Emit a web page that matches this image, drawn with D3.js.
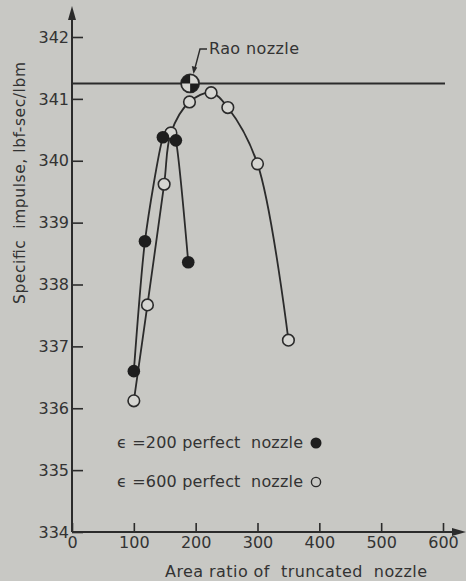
<!DOCTYPE html>
<html>
<head>
<meta charset="utf-8">
<script src="https://cdn.jsdelivr.net/npm/d3@7"></script>
<style>
  html, body { margin: 0; padding: 0; background: #c8c8c4; }
  svg { display: block; }
  text { font-family: "DejaVu Sans", sans-serif; fill: #333; white-space: pre; }
</style>
</head>
<body>
<script>
// eps = 200 perfect nozzle (filled dots)
const ratio200 = [100, 118, 147, 168, 188];
const isp200 = [336.6, 338.7, 340.38, 340.33, 338.36];

// eps = 600 perfect nozzle (open dots)
const ratio600 = [100, 122, 149, 160, 190, 225, 252, 300, 350];
const isp600 = [336.12, 337.67, 339.62, 340.45, 340.95, 341.1, 340.86, 339.95, 337.1];

// Rao nozzle
const raoRatio = 191;
const raoIsp = 341.25;

const xTicks = [0, 100, 200, 300, 400, 500, 600];
const yTicks = [334, 335, 336, 337, 338, 339, 340, 341, 342];

const width = 466, height = 581;
const ink = "#2b2b2b";

const svg = d3.select("body").append("svg")
  .attr("width", width)
  .attr("height", height);

svg.append("rect")
  .attr("width", width)
  .attr("height", height)
  .attr("fill", "#c8c8c4");

const x = d3.scaleLinear().domain([0, 600]).range([72, 443]);
const y = d3.scaleLinear().domain([334, 342]).range([532, 37]);

// axes
const xAxis = d3.axisBottom(x).tickValues(xTicks).tickSize(-9).tickPadding(5);
const yAxis = d3.axisLeft(y).tickValues(yTicks).tickSize(-11).tickPadding(3);

const gx = svg.append("g")
  .attr("transform", `translate(0,${y(334)})`)
  .call(xAxis);
const gy = svg.append("g")
  .attr("transform", `translate(${x(0)},0)`)
  .call(yAxis);

[gx, gy].forEach(g => {
  g.select(".domain").remove();
  g.selectAll(".tick line").attr("stroke", ink).attr("stroke-width", 1.6);
  g.selectAll(".tick text")
    .attr("fill", "#303030")
    .style("font-size", "16px")
    .style("font-family", "'DejaVu Sans', sans-serif");
});

// axis lines with arrows
svg.append("line")
  .attr("x1", x(0)).attr("y1", y(334))
  .attr("x2", x(0)).attr("y2", 16)
  .attr("stroke", ink).attr("stroke-width", 2);
svg.append("path")
  .attr("d", `M${x(0)},6 L${x(0) - 4},20 L${x(0) + 4},20 Z`)
  .attr("fill", ink);

svg.append("line")
  .attr("x1", x(0)).attr("y1", y(334))
  .attr("x2", 456).attr("y2", y(334))
  .attr("stroke", ink).attr("stroke-width", 2);
svg.append("path")
  .attr("d", `M466,${y(334)} L452,${y(334) - 4} L452,${y(334) + 4} Z`)
  .attr("fill", ink);

// axis titles
svg.append("text")
  .attr("x", 165)
  .attr("y", 577)
  .attr("textLength", 262)
  .attr("lengthAdjust", "spacing")
  .style("font-size", "16px")
  .text("Area ratio of  truncated  nozzle");

svg.append("text")
  .attr("transform", "translate(25,304) rotate(-90)")
  .attr("textLength", 242)
  .attr("lengthAdjust", "spacing")
  .style("font-size", "15.5px")
  .text("Specific  impulse, lbf-sec/lbm");

// Rao reference line
svg.append("line")
  .attr("x1", x(0)).attr("x2", 445)
  .attr("y1", y(raoIsp)).attr("y2", y(raoIsp))
  .attr("stroke", ink).attr("stroke-width", 2);

// curves
const line600 = d3.line()
  .x(d => x(d[0]))
  .y(d => y(d[1]))
  .curve(d3.curveCatmullRom.alpha(0.5));

const line200 = d3.line()
  .x(d => x(d[0]))
  .y(d => y(d[1]))
  .curve(d3.curveCardinal.tension(0.25));

const pts600 = ratio600.map((r, i) => [r, isp600[i]]);
const pts200 = ratio200.map((r, i) => [r, isp200[i]]);

svg.append("path")
  .attr("d", line600(pts600))
  .attr("fill", "none")
  .attr("stroke", ink)
  .attr("stroke-width", 1.8);

svg.append("path")
  .attr("d", line200(pts200))
  .attr("fill", "none")
  .attr("stroke", ink)
  .attr("stroke-width", 1.8);

// points
svg.append("g").selectAll("circle")
  .data(pts600)
  .join("circle")
  .attr("cx", d => x(d[0]))
  .attr("cy", d => y(d[1]))
  .attr("r", 5.8)
  .attr("fill", "#d6d6d2")
  .attr("stroke", ink)
  .attr("stroke-width", 1.6);

svg.append("g").selectAll("circle")
  .data(pts200)
  .join("circle")
  .attr("cx", d => x(d[0]))
  .attr("cy", d => y(d[1]))
  .attr("r", 6.3)
  .attr("fill", "#1e1e1e");

// Rao nozzle symbol
const rao = svg.append("g")
  .attr("transform", `translate(${x(raoRatio)},${y(raoIsp)})`);
rao.append("circle")
  .attr("r", 9)
  .attr("fill", "#d6d6d2")
  .attr("stroke", ink)
  .attr("stroke-width", 1.8);
const quad = d3.arc().innerRadius(0).outerRadius(9);
rao.append("path")
  .attr("d", quad({ startAngle: -Math.PI / 2, endAngle: 0 }))
  .attr("fill", "#1e1e1e");
rao.append("path")
  .attr("d", quad({ startAngle: Math.PI / 2, endAngle: Math.PI }))
  .attr("fill", "#1e1e1e");

// Rao label and leader
svg.append("path")
  .attr("d", "M207,49 L200,49 L195,68")
  .attr("fill", "none")
  .attr("stroke", ink)
  .attr("stroke-width", 1.4);
svg.append("path")
  .attr("d", "M193.5,74 L191.8,66 L197.2,67.4 Z")
  .attr("fill", ink);
svg.append("text")
  .attr("x", 209)
  .attr("y", 54)
  .attr("textLength", 90)
  .attr("lengthAdjust", "spacing")
  .style("font-size", "16px")
  .text("Rao nozzle");

// legend
svg.append("text")
  .attr("x", 117)
  .attr("y", 448)
  .attr("textLength", 186)
  .attr("lengthAdjust", "spacing")
  .style("font-size", "16px")
  .text("\u03f5 =200 perfect  nozzle");
svg.append("circle")
  .attr("cx", 316).attr("cy", 443)
  .attr("r", 5.5)
  .attr("fill", "#1e1e1e");

svg.append("text")
  .attr("x", 117)
  .attr("y", 487)
  .attr("textLength", 186)
  .attr("lengthAdjust", "spacing")
  .style("font-size", "16px")
  .text("\u03f5 =600 perfect  nozzle");
svg.append("circle")
  .attr("cx", 316).attr("cy", 482)
  .attr("r", 4.6)
  .attr("fill", "none")
  .attr("stroke", ink)
  .attr("stroke-width", 1.4);
</script>
</body>
</html>
